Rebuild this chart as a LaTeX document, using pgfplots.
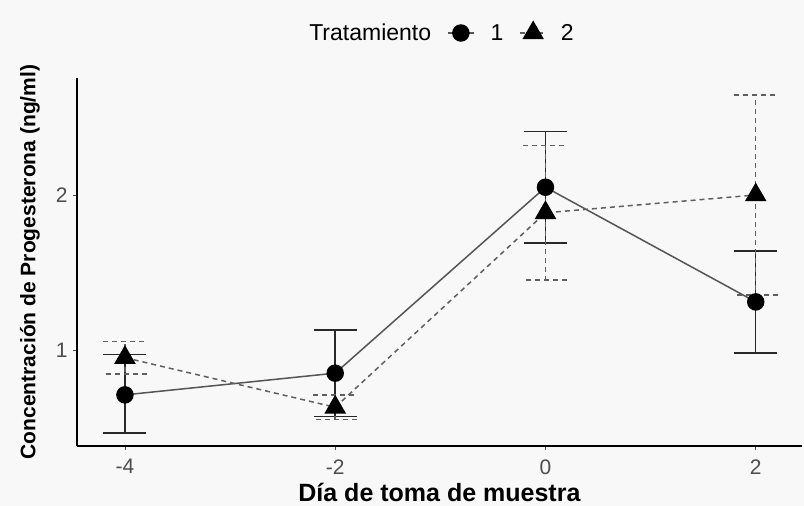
\documentclass[border=0pt]{standalone}
\usepackage{pgfplots}
\pgfplotsset{compat=1.18}
\usepackage{pgfplotstable}
\usepackage{fontspec}
\setmainfont{Liberation Sans}
\definecolor{bgc}{RGB}{248,248,248}
\definecolor{tickc}{RGB}{77,77,77}
\definecolor{lineA}{RGB}{85,85,85}
\definecolor{lineB}{RGB}{95,95,95}
\definecolor{barA}{RGB}{40,40,40}

\pgfplotstableread{
x y ep em
-4 0.71 0.26 0.245
-2 0.85 0.28 0.28
0 2.05 0.36 0.36
2 1.31 0.33 0.33
}\tA
\pgfplotstableread{
x y ep em
-4 0.95 0.105 0.105
-2 0.63 0.08 0.08
0 1.885 0.435 0.435
2 2.00 0.645 0.645
}\tB

\begin{document}
\begin{tikzpicture}
\fill[bgc] (-77pt,-60pt) rectangle (727pt,446pt);
\path[use as bounding box] (-77pt,-60pt) rectangle (727pt,446pt);
\begin{axis}[
  at={(0,0)}, anchor=south west,
  scale only axis, width=725pt, height=368pt,
  xmin=-4.456, xmax=2.44, ymin=0.38, ymax=2.755,
  axis lines*=left,
  axis line style={black, line width=1.1pt},
  xtick={-4,-2,0,2}, ytick={1,2},
  xticklabels={-4,-2,0,2},
  yticklabels={1,2},
  tick align=outside, major tick length=4pt,
  tick style={tickc, line width=0.8pt},
  /pgf/number format/assume math mode=true,
  every tick label/.append style={font=\fontsize{21}{24}\selectfont, text=tickc},
  xticklabel style={yshift=-6pt},
  yticklabel style={xshift=-2pt},
  xlabel={\textbf{Día de toma de muestra}},
  ylabel={\textbf{Concentración de Progesterona (ng/ml)}},
  every axis x label/.style={at={(axis description cs:0.5,0)}, anchor=base, yshift=-56pt, font=\fontsize{25}{29}\selectfont},
  every axis y label/.style={at={(axis description cs:-0.065,0.5)}, anchor=center, rotate=90, font=\fontsize{21}{24}\selectfont},
  legend columns=-1,
  legend style={at={(axis description cs:0.5,1)}, anchor=center, yshift=45pt, xshift=2pt,
    draw=none, fill=none, font=\fontsize{23}{26}\selectfont,
    /tikz/every even column/.style={column sep=0pt},
    /tikz/every odd column/.style={column sep=0pt},
    /tikz/column sep=0pt},
  legend image code/.code={\draw[mark repeat=2, mark phase=2, #1] plot coordinates {(0pt,0pt) (13pt,0pt) (26pt,0pt)};},
]
\addlegendimage{empty legend}
\addlegendentry{Tratamiento\hspace*{14pt}}

\addplot[lineA, line width=1.5pt, mark=*, mark size=8pt, mark options={solid, fill=black, draw=black},
  error bars/.cd, y dir=both, y explicit,
  error bar style={barA, line width=1.5pt, solid},
  error mark options={rotate=90, barA, line width=1.5pt, mark size=21.5pt, solid}]
  table[x=x, y=y, y error plus=ep, y error minus=em] {\tA};
\addlegendentry{\hspace*{14pt}1\hspace*{14pt}}

\addplot[lineB, line width=1.5pt, dash pattern=on 5pt off 4pt, mark=triangle*, mark size=11pt, mark options={solid, fill=black, draw=black},
  error bars/.cd, y dir=both, y explicit,
  error bar style={lineB, line width=1.5pt, dash pattern=on 5pt off 4pt},
  error mark options={rotate=90, lineB, line width=1.5pt, mark size=22pt, dash pattern=on 5pt off 4pt}]
  table[x=x, y=y, y error plus=ep, y error minus=em] {\tB};
\addlegendentry{\hspace*{12pt}2}
\end{axis}
\end{tikzpicture}
\end{document}
